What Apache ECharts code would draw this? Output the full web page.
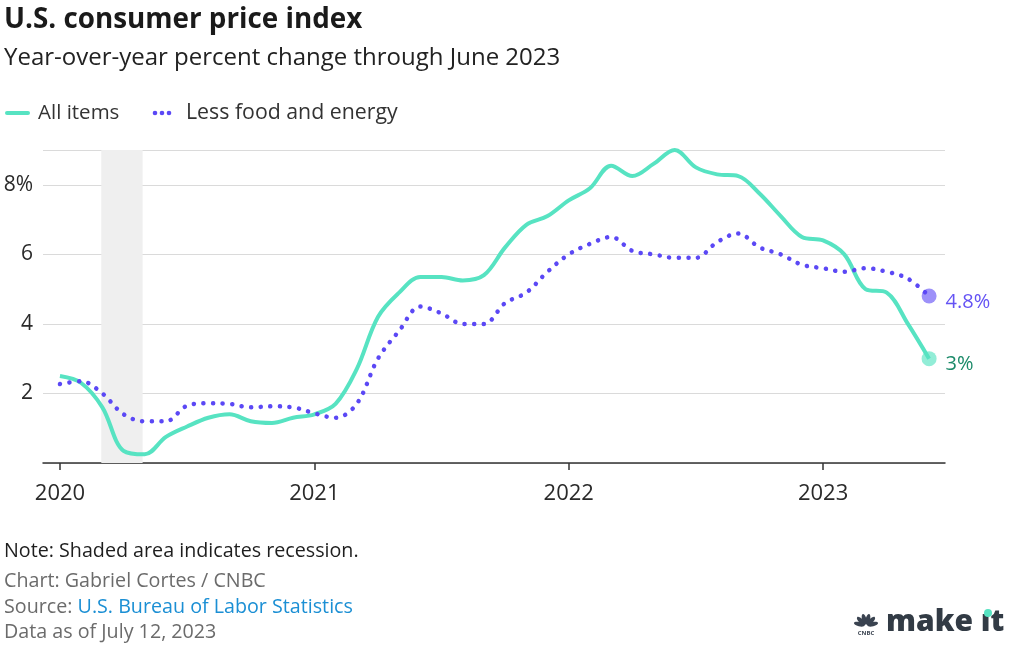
<!DOCTYPE html>
<html><head><meta charset="utf-8">
<script src="https://cdn.jsdelivr.net/npm/echarts@6/dist/echarts.min.js"></script>
<style>html,body{margin:0;padding:0;background:#fff}#c{width:1024px;height:656px}</style>
</head><body><div id="c"></div>
<script>
// Months from Jan 2020 (index 0) to Jun 2023 (index 41)
const yearLabels = ['2020', '2021', '2022', '2023'];
const yearTicks = [0, 12, 24, 36];
const allItems = [
  2.5, 2.3, 1.6, 0.35, 0.25, 0.75, 1.05, 1.3, 1.4, 1.2, 1.15, 1.3,
  1.4, 1.7, 2.7, 4.2, 4.9, 5.35, 5.35, 5.25, 5.4, 6.2, 6.85, 7.1,
  7.55, 7.9, 8.55, 8.25, 8.6, 9.0, 8.5, 8.3, 8.25, 7.75, 7.1, 6.5,
  6.4, 6.0, 5.0, 4.9, 4.0, 3.0
];
const coreItems = [
  2.27, 2.35, 2.0, 1.4, 1.2, 1.2, 1.65, 1.72, 1.7, 1.6, 1.63, 1.6,
  1.43, 1.3, 1.7, 3.0, 3.8, 4.5, 4.3, 4.0, 4.0, 4.6, 4.9, 5.5,
  6.0, 6.3, 6.5, 6.1, 6.0, 5.9, 5.9, 6.35, 6.6, 6.2, 6.0, 5.7,
  5.6, 5.5, 5.6, 5.5, 5.3, 4.8
];
const recession = [1.95, 3.9];
const yTicks = [0, 2, 4, 6, 8];

const idx = allItems.map((_, i) => i);
const allData = allItems.map((v, i) => [idx[i], v]);
const coreData = coreItems.map((v, i) => [idx[i], v]);
const last = allItems.length - 1;

const TEAL = '#57e3c2', PURPLE = '#5b48f5';
const chart = echarts.init(document.getElementById('c'));

const feathers = [];
for (let k = 0; k < 6; k++) {
  const a = (-75 + k * 30) * Math.PI / 180;
  feathers.push({ type: 'ellipse', x: 866 + Math.sin(a) * 7, y: 626 - Math.cos(a) * 7, rotation: -a,
    shape: { cx: 0, cy: 0, rx: 2.2, ry: 5.5 }, style: { fill: '#3a4350' } });
}

chart.setOption({
  animation: false,
  textStyle: { fontFamily: 'Open Sans' },
  grid: { left: 43, right: 79, top: 150, bottom: 193 },
  xAxis: {
    type: 'value', min: -0.8, max: 41.75,
    splitLine: { show: false },
    axisLine: { show: true, lineStyle: { color: '#333', width: 1.5 } },
    axisTick: { show: true, customValues: yearTicks, length: 7, lineStyle: { color: '#333', width: 1.5 } },
    axisLabel: { customValues: yearTicks, formatter: v => yearLabels[yearTicks.indexOf(v)],
      color: '#2a2a2a', fontSize: 22, margin: 20, fontFamily: 'Open Sans' }
  },
  yAxis: {
    type: 'value', min: 0, max: 9, interval: 2,
    axisLine: { show: false }, axisTick: { show: false },
    splitLine: { show: true, lineStyle: { color: '#dadada', width: 1.2 } },
    axisLabel: { customValues: yTicks, formatter: v => v === 0 ? '' : (v === 8 ? '8%' : String(v)),
      color: '#2a2a2a', fontSize: 21, margin: 10, fontFamily: 'Open Sans' }
  },
  series: [
    {
      type: 'line', data: allData, smooth: 0.35, symbol: 'none', z: 3,
      lineStyle: { color: TEAL, width: 4 },
      markArea: { silent: true, itemStyle: { color: '#efefef' },
        data: [[{ xAxis: recession[0] }, { xAxis: recession[1] }]] }
    },
    {
      type: 'line', data: coreData, smooth: 0.35, symbol: 'none', z: 4,
      lineStyle: { color: PURPLE, width: 4.5, type: [0.1, 9.5], cap: 'round' }
    },
    {
      type: 'scatter', z: 5, symbolSize: 15,
      data: [[idx[last], allItems[last]]],
      itemStyle: { color: TEAL, opacity: 0.65 },
      label: { show: true, position: 'right', distance: 9, formatter: p => p.value[1] + '%', opacity: 1,
        color: '#1b8a69', fontSize: 20, fontFamily: 'Open Sans', offset: [0, 6] }
    },
    {
      type: 'scatter', z: 5, symbolSize: 15,
      data: [[idx[last], coreItems[last]]],
      itemStyle: { color: PURPLE, opacity: 0.6 },
      label: { show: true, position: 'right', distance: 9, formatter: p => p.value[1] + '%', opacity: 1,
        color: '#6453f4', fontSize: 20, fontFamily: 'Open Sans', offset: [0, 6] }
    }
  ],
  graphic: [
    { type: 'text', x: 4, y: 20, style: { text: 'U.S. consumer price index', font: 'bold 27.8px "Open Sans"', fill: '#1a1a1a', verticalAlign: 'middle' } },
    { type: 'text', x: 4, y: 58, style: { text: 'Year-over-year percent change through June 2023', font: '24px "Open Sans"', fill: '#222', verticalAlign: 'middle' } },
    { type: 'line', shape: { x1: 7, y1: 113, x2: 28, y2: 113 }, style: { stroke: TEAL, lineWidth: 4, lineCap: 'round' } },
    { type: 'text', x: 38, y: 113, style: { text: 'All items', font: '20.5px "Open Sans"', fill: '#333', verticalAlign: 'middle' } },
    { type: 'circle', shape: { cx: 155, cy: 113, r: 2.3 }, style: { fill: PURPLE } },
    { type: 'circle', shape: { cx: 162, cy: 113, r: 2.3 }, style: { fill: PURPLE } },
    { type: 'circle', shape: { cx: 169, cy: 113, r: 2.3 }, style: { fill: PURPLE } },
    { type: 'text', x: 186, y: 113, style: { text: 'Less food and energy', font: '21.3px "Open Sans"', fill: '#333', verticalAlign: 'middle' } },
    { type: 'text', x: 4, y: 551, style: { text: 'Note: Shaded area indicates recession.', font: '19.7px "Open Sans"', fill: '#1e1e1e', verticalAlign: 'middle' } },
    { type: 'text', x: 4, y: 581, style: { text: 'Chart: Gabriel Cortes / CNBC', font: '19.7px "Open Sans"', fill: '#6b6b6b', verticalAlign: 'middle' } },
    { type: 'text', x: 4, y: 607, style: { rich: { a: { fontSize: 19.7, fontFamily: 'Open Sans', fill: '#6b6b6b' }, b: { fontSize: 19.7, fontFamily: 'Open Sans', fill: '#1b8fd4' } }, text: '{a|Source: }{b|U.S. Bureau of Labor Statistics}', verticalAlign: 'middle' } },
    { type: 'text', x: 4, y: 632, style: { text: 'Data as of July 12, 2023', font: '19.7px "Open Sans"', fill: '#6b6b6b', verticalAlign: 'middle' } },
    ...feathers,
    { type: 'text', x: 866, y: 633, style: { text: 'CNBC', font: 'bold 6px "Open Sans"', fill: '#3a4350', align: 'center', verticalAlign: 'middle' } },
    { type: 'text', x: 886, y: 622, style: { text: 'make ıt', font: '800 30px "Open Sans"', fill: '#323b45', verticalAlign: 'middle' } },
    { type: 'circle', shape: { cx: 988, cy: 613, r: 4 }, style: { fill: TEAL } }
  ]
});
</script></body></html>
